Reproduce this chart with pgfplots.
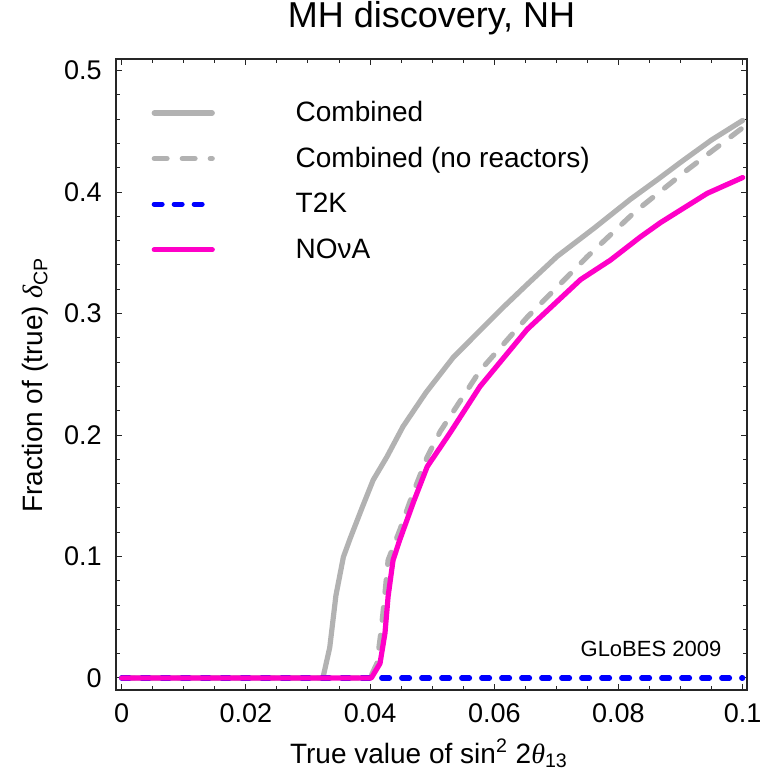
\documentclass[border=0pt]{standalone}
\usepackage{fontspec}
\setmainfont{Liberation Sans}
\newfontfamily\grk{Liberation Serif}
\usepackage{pgfplots}
\pgfplotsset{compat=1.18}
\definecolor{cgray}{gray}{0.70}
\definecolor{cblue}{rgb}{0,0,1}
\definecolor{cmag}{RGB}{255,0,200}
\begin{document}
\begin{tikzpicture}
\useasboundingbox (-58pt,-40.5pt) rectangle (324.5pt,345pt);
\begin{axis}[
  at={(0pt,0pt)}, anchor=south west,
  scale only axis, width=315.5pt, height=315.5pt,
  xmin=-0.00092, xmax=0.1007, ymin=-0.0099, ymax=0.5096,
  axis line style={black!85, line width=0.6pt},
  tick style={black!85, line width=0.5pt},
  major tick length=3pt, minor tick length=1.8pt,
  tick align=inside, xtick pos=both, ytick pos=both,
  xticklabel pos=bottom, yticklabel pos=left,
  xtick={0,0.02,0.04,0.06,0.08,0.1},
  xticklabels={0,0.02,0.04,0.06,0.08,0.1},
  ytick={0,0.1,0.2,0.3,0.4,0.5},
  yticklabels={0,0.1,0.2,0.3,0.4,0.5},
  minor x tick num=3, minor y tick num=4,
  scaled ticks=false,
  tick label style={font=\fontsize{13.5}{16}\selectfont},
  xticklabel style={anchor=base, yshift=-16pt},
  yticklabel style={anchor=east, inner sep=0pt, xshift=-7pt},
  title={MH discovery, NH},
  title style={font=\fontsize{18}{22}\selectfont, at={(axis description cs:0.5,1)}, anchor=base, yshift=9.5pt},
  xlabel={True value of sin\textsuperscript{2} 2{\grk\itshape θ}\textsubscript{13}},
  xlabel style={at={(axis description cs:0.496,-0.1157)}, anchor=base, font=\fontsize{14}{16}\selectfont},
  ylabel={Fraction of (true) {\grk\itshape δ}\textsubscript{CP}},
  ylabel style={at={(axis description cs:-0.1157,0.4834)}, anchor=base, font=\fontsize{14}{16}\selectfont},
  legend style={at={(axis description cs:0.0565,0.9374)}, anchor=north west, draw=none, fill=none, inner sep=0pt, outer sep=0pt, row sep=8.3pt, column sep=0pt, font=\fontsize{14}{16}\selectfont, nodes={text height=11.5pt, text depth=3pt, inner sep=0pt}},
  legend cell align=left,
  legend image code/.code={\draw[#1] (0pt,0pt) -- (29pt,0pt); \path[draw=none,fill=none] (0pt,0pt) -- (70.7pt,0pt);},
  every axis plot/.append style={line width=2.6pt, line cap=round, line join=round},
]
\addplot[cgray] coordinates {
(0,0) (0.0324,0) (0.0335,0.025) (0.0345,0.068) (0.0357,0.0996) (0.0368,0.115)
(0.0387,0.14) (0.0405,0.163) (0.0427,0.182) (0.0453,0.207) (0.049,0.235)
(0.0534,0.264) (0.0575,0.285) (0.0614,0.305) (0.0655,0.325) (0.0701,0.347)
(0.076,0.37) (0.0819,0.394) (0.0862,0.41) (0.0904,0.426) (0.095,0.443) (0.1,0.459)};
\addlegendentry{Combined}
\addplot[cgray, dash pattern=on 6.4pt off 7.6pt] coordinates {
(0,0) (0.0400,0) (0.0411,0.012) (0.0418,0.04) (0.0424,0.07) (0.0429,0.097)
(0.0448,0.122) (0.0469,0.152) (0.0492,0.182) (0.0513,0.203) (0.0577,0.253)
(0.0653,0.297) (0.075,0.347) (0.0827,0.384) (0.091,0.418) (0.1,0.453)};
\addlegendentry{Combined (no reactors)}
\addplot[cblue, dash pattern=on 3.9pt off 6.1pt] coordinates {(0,0) (0.1,0)};
\addlegendentry{T2K}
\addplot[cmag] coordinates {
(0,0) (0.0402,0) (0.0416,0.012) (0.0424,0.037) (0.0429,0.067) (0.0437,0.097)
(0.0448,0.114) (0.0470,0.145) (0.0492,0.174) (0.0529,0.202) (0.0577,0.240)
(0.0653,0.287) (0.0739,0.328) (0.0787,0.344) (0.0835,0.363) (0.0868,0.375)
(0.0943,0.399) (0.1,0.412)};
\addlegendentry{NOνA}
\node[anchor=base east, font=\fontsize{11}{13}\selectfont] at (axis cs:0.0977,0.0173) {GLoBES 2009};
\end{axis}
\end{tikzpicture}
\end{document}
